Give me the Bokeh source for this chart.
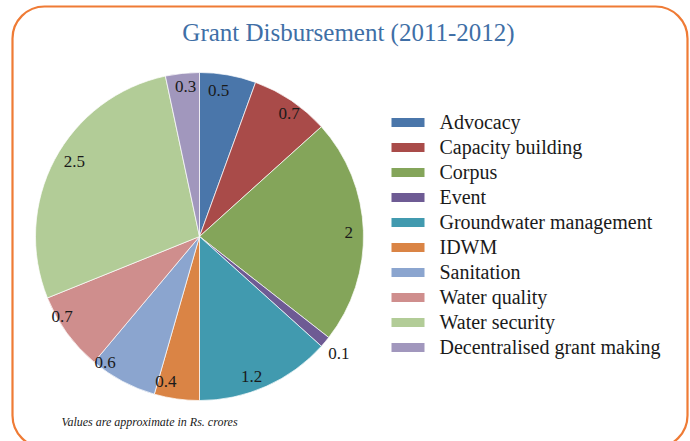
import numpy as np
from bokeh.plotting import figure
from bokeh.models import Range1d, BoxAnnotation, ColumnDataSource
from bokeh.core.properties import value
from bokeh.embed import file_html
from bokeh.resources import INLINE

categories = ["Advocacy", "Capacity building", "Corpus", "Event",
              "Groundwater management", "IDWM", "Sanitation",
              "Water quality", "Water security", "Decentralised grant making"]
values = [0.5, 0.7, 2, 0.1, 1.2, 0.4, 0.6, 0.7, 2.5, 0.3]
value_labels = ["0.5", "0.7", "2", "0.1", "1.2", "0.4", "0.6", "0.7", "2.5", "0.3"]
colors = ["#4A76AA", "#A94B49", "#84A55A", "#6E5B94", "#419AAF",
          "#DA8445", "#8BA5CF", "#CF8E8D", "#B2CC97", "#A197BD"]
label_radius = [0.90, 0.93, 0.91, 1.11, 0.91, 0.91, 0.96, 0.97, 0.89, 0.92]
label_shift_deg = [-2.6, 2.0, 0.5, 0.0, 3.6, 5.0, 8.8, 5.7, 3.0, 0.7]

title = "Grant Disbursement (2011-2012)"
note = "Values are approximate in Rs. crores"

W, H = 690, 441
SERIF = "Liberation Serif"

p = figure(width=W, height=H, x_range=Range1d(0, W), y_range=Range1d(0, H),
           output_backend="svg", toolbar_location=None, min_border=0,
           x_axis_location=None, y_axis_location=None)
p.grid.visible = False
p.outline_line_color = None
p.background_fill_color = "white"
p.border_fill_color = "white"

# rounded frame
p.add_layout(BoxAnnotation(left=12, right=687, top=H - 6, bottom=-6,
                           border_radius=32, fill_alpha=0,
                           line_color="#EF7B35", line_alpha=1.0,
                           line_width=2.2))

cx, cy, R = 199, H - 236, 164
cum = np.concatenate([[0], np.cumsum(values)])
theta = cum / cum[-1] * 2 * np.pi
start = np.pi / 2 - theta[:-1]
end = np.pi / 2 - theta[1:]
src = ColumnDataSource(dict(start=start, end=end, color=colors))
p.wedge(x=cx, y=cy, radius=R, start_angle="start", end_angle="end",
        direction="clock", fill_color="color", line_color="white",
        line_width=0.7, source=src)

mid = (theta[:-1] + theta[1:]) / 2 + np.radians(label_shift_deg)
lr = np.array(label_radius)
lx = cx + lr * R * np.sin(mid)
ly = cy + lr * R * np.cos(mid)
lsrc = ColumnDataSource(dict(x=lx, y=ly, t=value_labels))
p.text(x="x", y="y", text="t", source=lsrc, text_align="center",
       text_baseline="middle", text_font_size="17px",
       text_color="#1a1a1a", text_font=value(SERIF))

# legend
n = len(categories)
row_y = [H - (122 + 25 * i) for i in range(n)]
p.rect(x=[407.5] * n, y=row_y, width=33, height=9, fill_color=colors,
       line_color=None)
p.text(x=[439] * n, y=[y + 1 for y in row_y], text=categories,
       text_align="left", text_baseline="middle", text_font_size="20px",
       text_color="#1a1a1a", text_font=value(SERIF))

# title
p.text(x=[348], y=[H - 32], text=[title], text_align="center",
       text_baseline="middle", text_font_size="25px",
       text_color="#3F6FA6", text_font=value(SERIF))

# footnote
p.text(x=[149], y=[H - 421], text=[note], text_align="center",
       text_baseline="middle", text_font_size="12px",
       text_font_style="italic", text_color="#1a1a1a", text_font=value(SERIF))

open("out.html", "w").write(file_html(p, INLINE))
